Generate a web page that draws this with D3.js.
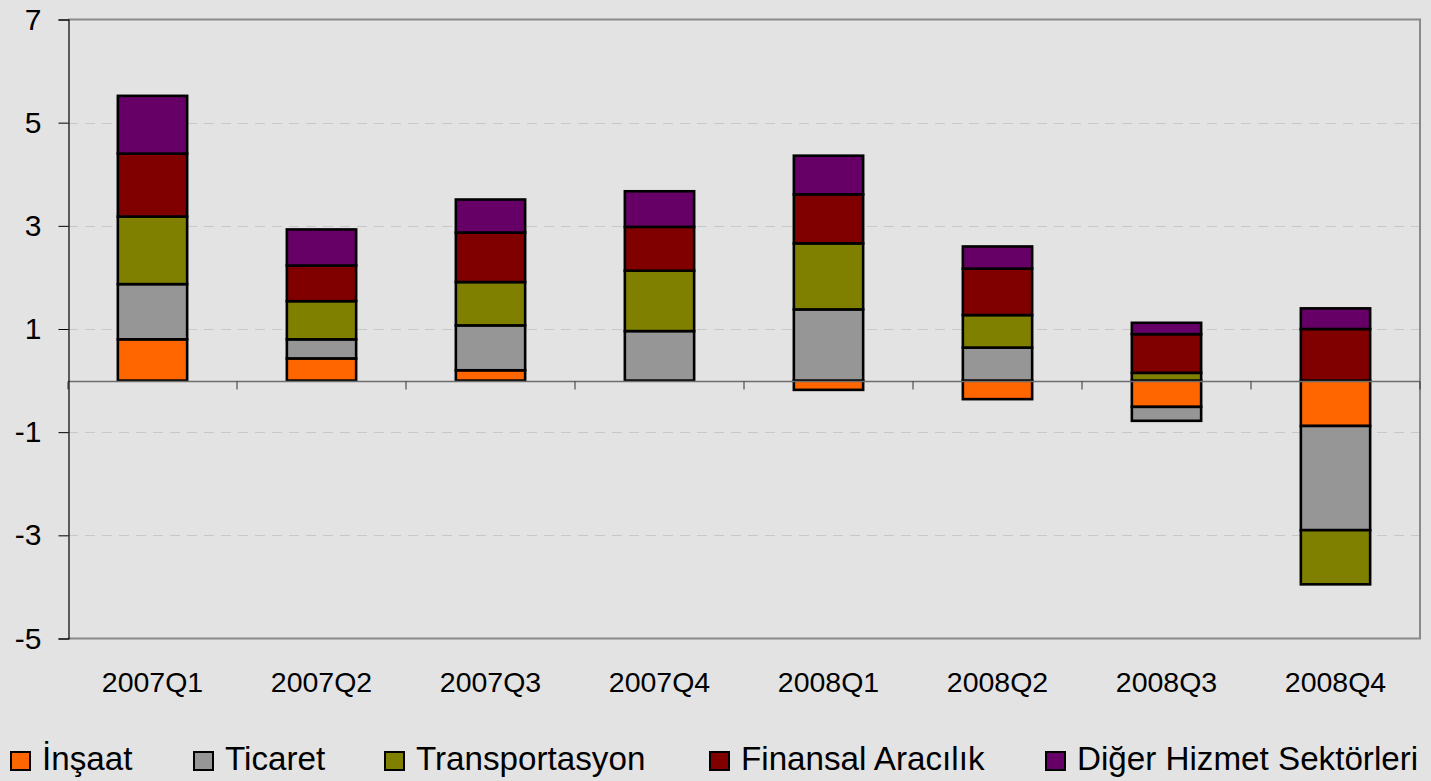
<!DOCTYPE html>
<html><head><meta charset="utf-8">
<script src="https://cdn.jsdelivr.net/npm/d3@7"></script>
<style>
html,body{margin:0;padding:0;background:#E3E3E3;}
svg{display:block;font-family:"Liberation Sans",Arial,sans-serif;}
</style></head>
<body>
<svg id="chart" width="1431" height="781"></svg>
<script>
const categories = ["2007Q1","2007Q2","2007Q3","2007Q4","2008Q1","2008Q2","2008Q3","2008Q4"];
const seriesNames = ["İnşaat","Ticaret","Transportasyon","Finansal Aracılık","Diğer Hizmet Sektörleri"];
const insaat       = [0.80, 0.43, 0.20, 0.00, -0.18, -0.36, -0.51, -0.88];
const ticaret      = [1.07, 0.37, 0.87, 0.96,  1.38,  0.64, -0.27, -2.02];
const transport    = [1.31, 0.74, 0.84, 1.17,  1.28,  0.63,  0.15, -1.05];
const finansal     = [1.22, 0.69, 0.96, 0.85,  0.95,  0.90,  0.75,  1.00];
const diger        = [1.12, 0.70, 0.64, 0.69,  0.75,  0.43,  0.22,  0.40];
const colors = ["#FF6600","#969696","#808000","#800000","#660066"];
const yTicks = [7,5,3,1,-1,-3,-5];

const seriesValues = [insaat, ticaret, transport, finansal, diger];
const rows = categories.map((c,i)=>{
  const r = {cat:c};
  seriesNames.forEach((s,j)=>{ r[s] = seriesValues[j][i]; });
  return r;
});

const svg = d3.select("#chart");
const L = 68, R = 1420, T = 19.5, B = 638.5;

const x = d3.scaleBand().domain(categories).range([L,R]).paddingInner(0.59).paddingOuter(0.295);
const y = d3.scaleLinear().domain([-5,7]).range([B,T]);

// gridlines
svg.append("g").selectAll("line").data(yTicks.filter(t=>t!==7 && t!==-5)).join("line")
  .attr("x1",L).attr("x2",R)
  .attr("y1",d=>Math.round(y(d))+0.5).attr("y2",d=>Math.round(y(d))+0.5)
  .attr("stroke","#C8C8C8").attr("stroke-width",1.2).attr("stroke-dasharray","10,7");

// frame (top, right, bottom)
svg.append("path")
  .attr("d",`M${L},${T}H${R}V${B}H${L}`)
  .attr("fill","none").attr("stroke","#8A8A8A").attr("stroke-width",2);

// bars
const stack = d3.stack().keys(seriesNames).offset(d3.stackOffsetDiverging);
const stacked = stack(rows);
svg.append("g").selectAll("g").data(stacked).join("g")
  .attr("fill",(d,i)=>colors[i])
  .selectAll("rect").data(d=>d.filter(p=>p[1]!==p[0])).join("rect")
  .attr("x",d=>x(d.data.cat))
  .attr("width",x.bandwidth())
  .attr("y",d=>y(Math.max(d[0],d[1])))
  .attr("height",d=>Math.abs(y(d[0])-y(d[1])))
  .attr("stroke","#000").attr("stroke-width",2.6);

// zero (category) axis
const y0 = Math.round(y(0))+0.5;
svg.append("line").attr("x1",L).attr("x2",R).attr("y1",y0).attr("y2",y0)
  .attr("stroke","#6E6E6E").attr("stroke-width",1.3);
const bounds = d3.range(categories.length+1).map(i=>L + i*x.step());
svg.append("g").selectAll("line").data(bounds).join("line")
  .attr("x1",d=>d).attr("x2",d=>d).attr("y1",y0).attr("y2",y0+8)
  .attr("stroke","#333").attr("stroke-width",1);

// y axis
const yAxis = d3.axisLeft(y).tickValues(yTicks).tickSize(10).tickPadding(17).tickFormat(d=>String(d));
const ga = svg.append("g").attr("transform",`translate(${L+0.5},0)`).call(yAxis);
ga.select(".domain").attr("stroke","#000").attr("stroke-width",1.2);
ga.selectAll(".tick line").attr("stroke","#000");
ga.selectAll(".tick text").attr("font-size",30).attr("fill","#000")
  .attr("font-family","'Liberation Sans',Arial,sans-serif");

// x labels
svg.append("g").selectAll("text").data(categories).join("text")
  .attr("x",d=>x(d)+x.bandwidth()/2).attr("y",692)
  .attr("text-anchor","middle").attr("font-size",28.5).attr("fill","#000")
  .text(d=>d);

// legend
const legendX = [10,193,384,709,1045];
const lg = svg.append("g");
seriesNames.forEach((s,i)=>{
  lg.append("rect").attr("x",legendX[i]+1).attr("y",752).attr("width",19).attr("height",18)
    .attr("fill",colors[i]).attr("stroke","#000").attr("stroke-width",2);
  lg.append("text").attr("x",legendX[i]+32).attr("y",770)
    .attr("font-size",33.2).attr("fill","#000").text(s);
});
</script>
</body></html>
